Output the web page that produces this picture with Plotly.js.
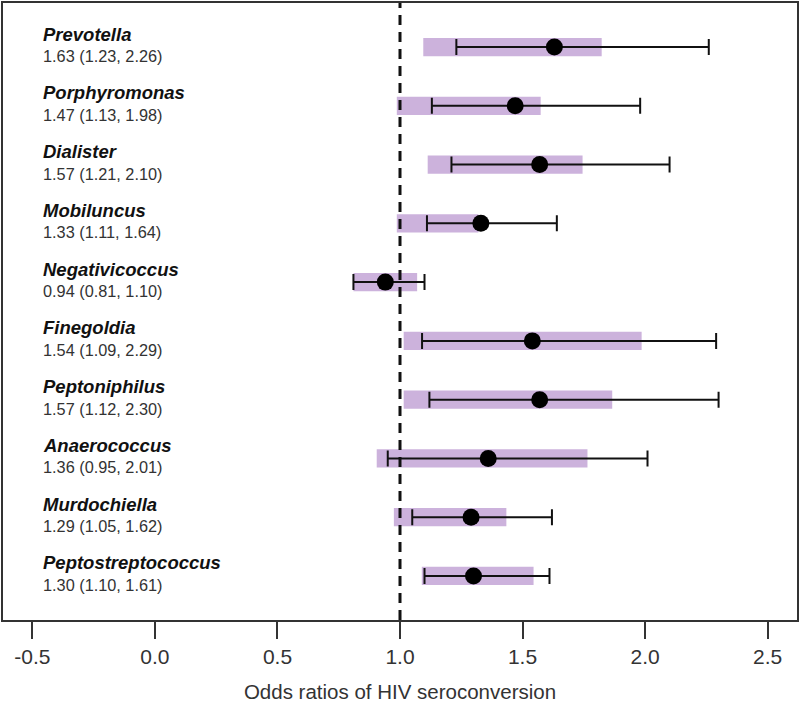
<!DOCTYPE html>
<html>
<head>
<meta charset="utf-8">
<script src="https://cdn.plot.ly/plotly-3.0.1.min.js"></script>
<style>
  html, body { margin: 0; padding: 0; background: #fff; }
  #chart { width: 800px; height: 703px; }
</style>
</head>
<body>
<div id="chart"></div>
<script>
var genera = ['Prevotella', 'Porphyromonas', 'Dialister', 'Mobiluncus', 'Negativicoccus',
              'Finegoldia', 'Peptoniphilus', 'Anaerococcus', 'Murdochiella', 'Peptostreptococcus'];
var oddsRatio = [1.63, 1.47, 1.57, 1.33, 0.94, 1.54, 1.57, 1.36, 1.29, 1.30];
var ciLow = [1.23, 1.13, 1.21, 1.11, 0.81, 1.09, 1.12, 0.95, 1.05, 1.10];
var ciHigh = [2.26, 1.98, 2.10, 1.64, 1.10, 2.29, 2.30, 2.01, 1.62, 1.61];
// shaded band behind each estimate
var bandLow = [1.095, 0.987, 1.113, 0.987, 0.81, 1.015, 1.015, 0.905, 0.975, 1.089];
var bandHigh = [1.823, 1.574, 1.745, 1.32, 1.07, 1.986, 1.866, 1.765, 1.434, 1.545];
var xTicks = [-0.5, 0.0, 0.5, 1.0, 1.5, 2.0, 2.5];

var rows = genera.map(function (g, i) { return i + 1; });

var bandTrace = {
  type: 'bar',
  orientation: 'h',
  y: rows,
  base: bandLow,
  x: bandLow.map(function (lo, i) { return bandHigh[i] - lo; }),
  width: 0.31,
  marker: { color: '#ccb2dc', line: { width: 0 } },
  hoverinfo: 'skip',
  showlegend: false
};

var pointTrace = {
  type: 'scatter',
  mode: 'markers',
  x: oddsRatio,
  y: rows,
  marker: { color: '#000', size: 17 },
  error_x: {
    type: 'data',
    symmetric: false,
    array: ciHigh.map(function (h, i) { return h - oddsRatio[i]; }),
    arrayminus: ciLow.map(function (l, i) { return oddsRatio[i] - l; }),
    color: '#111',
    thickness: 2,
    width: 8
  },
  showlegend: false
};

var annotations = [];
genera.forEach(function (g, i) {
  annotations.push({
    x: 0.048, xref: 'paper', y: rows[i], yref: 'y',
    text: '<b><i>' + g + '</i></b>', showarrow: false,
    xanchor: 'left', yanchor: 'middle', yshift: 13,
    font: { family: 'Liberation Sans, Arial, sans-serif', size: 18.5, color: '#111' }
  });
  annotations.push({
    x: 0.048, xref: 'paper', y: rows[i], yref: 'y',
    text: oddsRatio[i].toFixed(2) + ' (' + ciLow[i].toFixed(2) + ', ' + ciHigh[i].toFixed(2) + ')',
    showarrow: false, xanchor: 'left', yanchor: 'middle', yshift: -9,
    font: { family: 'Liberation Sans, Arial, sans-serif', size: 16.3, color: '#333' }
  });
});

var layout = {
  width: 800,
  height: 703,
  margin: { l: 3, r: 3, t: 3, b: 83 },
  paper_bgcolor: '#fff',
  plot_bgcolor: '#fff',
  font: { family: 'Liberation Sans, Arial, sans-serif', color: '#333' },
  xaxis: {
    range: [-0.62, 2.62],
    tickvals: xTicks,
    ticktext: xTicks.map(function (v) { return v.toFixed(1); }),
    ticks: 'outside',
    ticklen: 17,
    tickwidth: 2,
    tickcolor: '#333',
    tickfont: { size: 21, color: '#333' },
    showgrid: false,
    zeroline: false,
    showline: true,
    mirror: true,
    linecolor: '#333',
    linewidth: 2,
    automargin: false,
    title: { text: 'Odds ratios of HIV seroconversion', font: { size: 20.5, color: '#333' }, standoff: 18 }
  },
  yaxis: {
    range: [10.75, 0.25],
    showticklabels: false,
    ticks: '',
    showgrid: false,
    zeroline: false,
    showline: true,
    mirror: true,
    linecolor: '#333',
    linewidth: 2,
    automargin: false
  },
  shapes: [{
    type: 'line', xref: 'x', yref: 'paper',
    x0: 1, x1: 1, y0: 0, y1: 1,
    line: { color: '#111', width: 3, dash: '10px,7px' },
    layer: 'above'
  }],
  annotations: annotations,
  showlegend: false
};

Plotly.newPlot('chart', [bandTrace, pointTrace], layout, { displayModeBar: false, staticPlot: true });
</script>
</body>
</html>
